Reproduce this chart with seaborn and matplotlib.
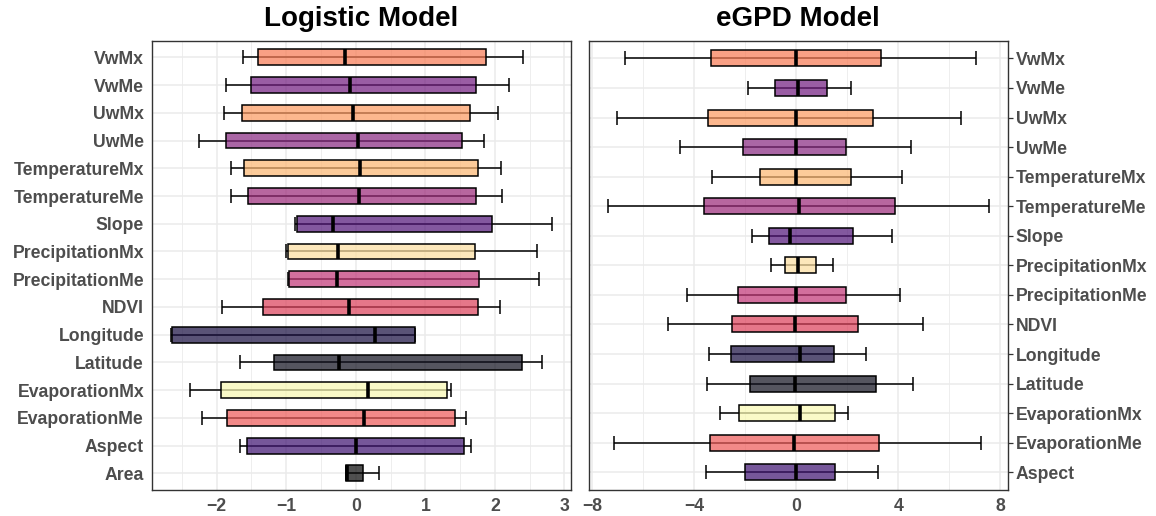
import numpy as np
import pandas as pd
import seaborn as sns
import matplotlib.pyplot as plt
from matplotlib.colors import to_rgb
from matplotlib.ticker import MultipleLocator

sns.set_theme(style="white")
plt.rcParams['font.family'] = ['Liberation Sans', 'DejaVu Sans']
plt.rcParams['font.weight'] = 'bold'

# variables, bottom to top (alphabetical)
logit_vars = ['Area', 'Aspect', 'EvaporationMe', 'EvaporationMx', 'Latitude', 'Longitude',
              'NDVI', 'PrecipitationMe', 'PrecipitationMx', 'Slope', 'TemperatureMe',
              'TemperatureMx', 'UwMe', 'UwMx', 'VwMe', 'VwMx']
# box summaries: lower whisker, q1, median, q3, upper whisker
logit_lo = [-0.14, -1.66, -2.21, -2.39, -1.67, -2.66, -1.93, -0.98, -1.00, -0.875, -1.79, -1.80, -2.25, -1.90, -1.86, -1.62]
logit_q1 = [-0.14, -1.57, -1.85, -1.94, -1.17, -2.64, -1.34, -0.955, -0.97, -0.84, -1.55, -1.60, -1.86, -1.63, -1.50, -1.41]
logit_med = [-0.12, 0.01, 0.12, 0.175, -0.24, 0.28, -0.10, -0.27, -0.25, -0.33, 0.04, 0.06, 0.03, -0.04, -0.08, -0.16]
logit_q3 = [0.10, 1.56, 1.43, 1.31, 2.39, 0.85, 1.75, 1.77, 1.71, 1.96, 1.73, 1.76, 1.52, 1.64, 1.73, 1.87]
logit_hi = [0.34, 1.66, 1.59, 1.37, 2.67, 0.85, 2.07, 2.63, 2.61, 2.82, 2.10, 2.09, 1.85, 2.04, 2.20, 2.41]

egpd_vars = logit_vars[1:]
egpd_lo = [-3.55, -7.17, -2.98, -3.49, -3.41, -5.05, -4.31, -0.98, -1.75, -7.40, -3.31, -4.57, -7.04, -1.91, -6.73]
egpd_q1 = [-2.03, -3.38, -2.26, -1.83, -2.57, -2.54, -2.30, -0.43, -1.09, -3.61, -1.44, -2.10, -3.48, -0.83, -3.35]
egpd_med = [0.00, -0.09, 0.14, -0.07, 0.13, -0.06, -0.03, 0.06, -0.24, 0.10, -0.01, -0.03, 0.00, 0.06, 0.00]
egpd_q3 = [1.50, 3.22, 1.50, 3.13, 1.47, 2.43, 1.93, 0.75, 2.20, 3.88, 2.14, 1.93, 2.99, 1.18, 3.31]
egpd_hi = [3.19, 7.23, 2.01, 4.57, 2.72, 4.96, 4.08, 1.44, 3.74, 7.55, 4.13, 4.51, 6.47, 2.14, 7.03]

# fill colours as seen (already blended with white)
seen_colors = {'VwMx': '#f9a185', 'VwMe': '#9a5ea4', 'UwMx': '#fdb78f', 'UwMe': '#ab66a6',
               'TemperatureMx': '#fdcb9b', 'TemperatureMe': '#b8669f', 'Slope': '#83589f',
               'PrecipitationMx': '#fde8bb', 'PrecipitationMe': '#d26f9e', 'NDVI': '#e5788a',
               'Longitude': '#5a5377', 'Latitude': '#55555f', 'EvaporationMx': '#fbfbc8',
               'EvaporationMe': '#f28a88', 'Aspect': '#76579a', 'Area': '#505050'}
ALPHA = 0.72
base_colors = {k: tuple(np.clip((np.array(to_rgb(v)) - (1 - ALPHA)) / ALPHA, 0, 1))
               for k, v in seen_colors.items()}

W, H = 1156, 516
fig = plt.figure(figsize=(W / 100, H / 100), dpi=100)


def px_axes(x0, x1, y0, y1):
    return fig.add_axes([x0 / W, (H - y1) / H, (x1 - x0) / W, (y1 - y0) / H])


def panel(ax, names, lo, q1, med, q3, hi, width, major, minor, ticks, right=False):
    order = names[::-1]
    df = pd.DataFrame({
        'variable': np.repeat(names, 5),
        'value': np.column_stack([lo, q1, med, q3, hi]).ravel(),
    })
    n = len(names)
    ypos = np.arange(n)
    med_r, lo_r, hi_r = np.array(med)[::-1], np.array(lo)[::-1], np.array(hi)[::-1]
    ax.errorbar(med_r, ypos, xerr=[med_r - lo_r, hi_r - med_r], fmt='none',
                ecolor='black', elinewidth=1.1, capsize=5.2, capthick=1.1, zorder=1.5)
    sns.boxplot(data=df, x='value', y='variable', order=order, hue='variable',
                hue_order=order, palette=base_colors, legend=False, saturation=1,
                width=width, whis=(0, 100), showfliers=False, linecolor='black',
                linewidth=1.1, medianprops={'linewidth': 2.6, 'color': 'black'},
                whiskerprops={'visible': False}, capprops={'visible': False},
                ax=ax, zorder=2)
    for p in ax.patches:
        fc = p.get_facecolor()
        p.set_facecolor((fc[0], fc[1], fc[2], ALPHA))
    span = max(hi) - min(lo)
    ax.set_xlim(min(lo) - 0.05 * span, max(hi) + 0.05 * span)
    ax.set_ylim(n - 1 + 0.6, -0.6)
    ax.xaxis.set_major_locator(MultipleLocator(major))
    ax.xaxis.set_minor_locator(MultipleLocator(minor))
    ax.set_xticks(ticks)
    ax.set_xticklabels([f"{t:g}".replace('-', '\u2212') for t in ticks])
    ax.grid(which='major', color='#ebebeb', linewidth=1.1)
    ax.grid(which='minor', axis='x', color='#ebebeb', linewidth=0.6)
    ax.set_axisbelow(True)
    for s in ax.spines.values():
        s.set_color('#333333')
        s.set_linewidth(1.0)
    ax.set_xlabel('')
    ax.set_ylabel('')
    ax.tick_params(axis='both', which='major', length=3.5, width=0.9, color='#333333',
                   labelsize=12.7, labelcolor='#4d4d4d', pad=2)
    ax.tick_params(axis='x', which='minor', length=0)
    if right:
        ax.yaxis.tick_right()
    for lab in ax.get_xticklabels() + ax.get_yticklabels():
        lab.set_fontweight('bold')


ax1 = px_axes(151.7, 571, 40.7, 490)
panel(ax1, logit_vars, logit_lo, logit_q1, logit_med, logit_q3, logit_hi,
      0.57, 1, 0.5, [-2, -1, 0, 1, 2, 3])

ax2 = px_axes(588.7, 1008, 40.7, 490)
panel(ax2, egpd_vars, egpd_lo, egpd_q1, egpd_med, egpd_q3, egpd_hi,
      0.54, 4, 2, [-8, -4, 0, 4, 8], right=True)

fig.text(361 / W, 1 - 19 / H, 'Logistic Model', ha='center', va='center',
         fontsize=20, fontweight='bold', color='black')
fig.text(798 / W, 1 - 19 / H, 'eGPD Model', ha='center', va='center',
         fontsize=20, fontweight='bold', color='black')

fig.savefig('out.png', dpi=100)
